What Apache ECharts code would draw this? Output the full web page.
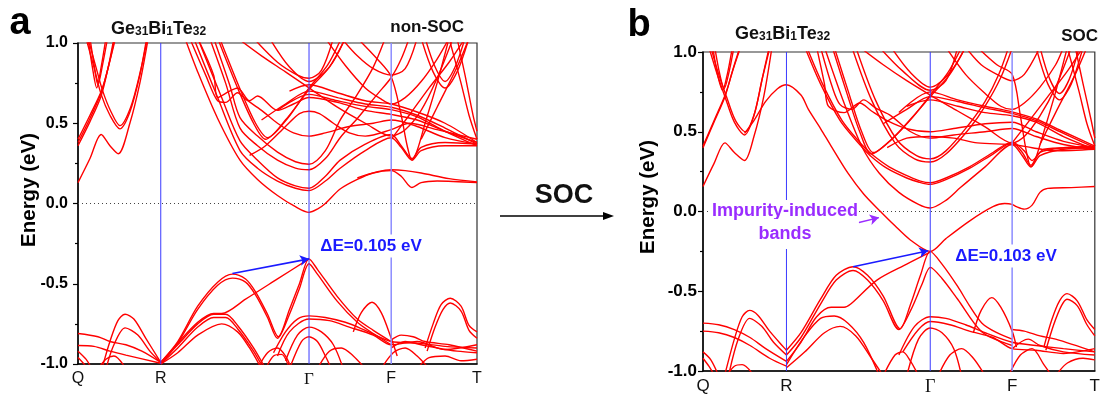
<!DOCTYPE html>
<html><head><meta charset="utf-8">
<script src="https://cdn.jsdelivr.net/npm/echarts@6/dist/echarts.min.js"></script>
<style>html,body{margin:0;padding:0;background:#fff}#c{width:1103px;height:396px}</style>
</head><body><div id="c"></div>
<script>
// ---------- high-symmetry path ----------
const kLabels = ['Q', 'R', 'Γ', 'F', 'T'];
const kPosNonSoc = [0, 0.2074, 0.579, 0.785, 1];
const kPosSoc = [0, 0.213, 0.58, 0.789, 1];
const energyTicks = [-1.0, -0.5, 0.0, 0.5, 1.0];

// ---------- (a) non-SOC bands: [k, E(eV)] ----------
const nonSocQR = [
  [[0,0.13],[0.03,0.28],[0.058,0.43],[0.08,0.36],[0.101,0.31],[0.13,0.50],[0.155,0.75],[0.176,1.03]],
  [[0,0.36],[0.03,0.51],[0.058,0.67],[0.075,0.84],[0.09,1.03]],
  [[0,0.38],[0.03,0.53],[0.058,0.69],[0.078,0.87],[0.092,1.03]],
  [[0,0.40],[0.03,0.55],[0.06,0.71],[0.08,0.89],[0.094,1.03]],
  [[0.02,1.03],[0.04,0.85],[0.058,0.68],[0.08,0.55],[0.105,0.465],[0.13,0.57],[0.155,0.80],[0.172,1.03]],
  [[0.025,1.03],[0.045,0.85],[0.062,0.70],[0.083,0.57],[0.105,0.485],[0.132,0.60],[0.157,0.83],[0.174,1.03]],
  [[0.025,1.03],[0.036,0.85],[0.047,0.72],[0.058,0.85],[0.07,1.03]],
  [[0.03,1.03],[0.04,0.87],[0.05,0.74],[0.062,0.87],[0.074,1.03]]
];
const nonSocQRValence = [
  [[0.06,-1.03],[0.08,-0.86],[0.10,-0.73],[0.118,-0.69],[0.14,-0.72],[0.17,-0.84],[0.2074,-0.99]],
  [[0.07,-1.03],[0.09,-0.88],[0.118,-0.775],[0.15,-0.82],[0.18,-0.92],[0.2074,-0.99]],
  [[0,-0.81],[0.05,-0.83],[0.08,-0.86],[0.12,-0.88],[0.16,-0.92],[0.2074,-0.99]],
  [[0,-0.885],[0.04,-0.89],[0.08,-0.92],[0.12,-0.945],[0.2074,-0.995]],
  [[0,-0.92],[0.02,-0.97],[0.035,-1.03]],
  [[0,-0.96],[0.015,-1.0],[0.025,-1.03]],
  [[0.05,-1.03],[0.07,-0.97],[0.09,-0.95],[0.12,-1.03]]
];
const nonSocConduction = [
  [[0.268,1.03],[0.30,0.82],[0.35,0.53],[0.406,0.27],[0.45,0.15],[0.50,0.05],[0.545,-0.02],[0.579,-0.055],[0.60,-0.035],[0.62,0.0],[0.657,0.09],[0.70,0.15],[0.74,0.19],[0.785,0.205],[0.81,0.17],[0.837,0.10],[0.86,0.13],[0.90,0.14],[1,0.13]],
  [[0.70,0.16],[0.785,0.21],[0.82,0.205],[0.86,0.19],[0.93,0.155],[1,0.135]],
  [[0.29,1.03],[0.35,0.66],[0.406,0.33],[0.45,0.22],[0.50,0.14],[0.545,0.095],[0.579,0.08],[0.62,0.14],[0.657,0.22],[0.72,0.33],[0.785,0.41],[0.81,0.35],[0.837,0.27],[0.86,0.33],[0.92,0.36],[1,0.36]],
  [[0.30,1.03],[0.36,0.66],[0.406,0.39],[0.45,0.27],[0.50,0.16],[0.545,0.11],[0.579,0.095],[0.62,0.17],[0.657,0.27],[0.72,0.37],[0.785,0.43],[0.81,0.36],[0.837,0.28],[0.86,0.35],[0.92,0.38],[1,0.37]],
  [[0.33,1.03],[0.37,0.75],[0.406,0.47],[0.45,0.36],[0.50,0.27],[0.545,0.22],[0.579,0.21],[0.62,0.28],[0.657,0.41],[0.70,0.53],[0.75,0.68],[0.785,0.785],[0.81,0.90],[0.83,1.03]],
  [[0.34,1.03],[0.38,0.74],[0.406,0.535],[0.45,0.42],[0.50,0.32],[0.545,0.26],[0.579,0.245],[0.62,0.33],[0.657,0.52],[0.70,0.68],[0.74,0.85],[0.77,1.03]],
  [[0.43,0.30],[0.47,0.36],[0.52,0.48],[0.555,0.56],[0.579,0.575],[0.605,0.56],[0.64,0.50],[0.68,0.44],[0.72,0.42],[0.785,0.46],[0.83,0.50],[0.90,0.46],[1,0.40]],
  [[0.35,1.03],[0.40,0.72],[0.44,0.50],[0.47,0.40],[0.52,0.52],[0.579,0.71],[0.63,0.85],[0.67,1.03]],
  [[0.355,1.03],[0.405,0.72],[0.445,0.50],[0.475,0.41],[0.525,0.53],[0.579,0.72],[0.625,0.86],[0.66,1.03]],
  [[0.40,1.03],[0.46,0.92],[0.52,0.82],[0.579,0.72],[0.65,0.60],[0.72,0.50],[0.785,0.42],[0.82,0.46],[0.86,0.58],[0.90,0.78],[0.94,1.03]],
  [[0.46,0.52],[0.52,0.62],[0.579,0.70],[0.65,0.66],[0.72,0.62],[0.785,0.60],[0.85,0.55],[0.92,0.47],[1,0.37]],
  [[0.50,0.58],[0.579,0.68],[0.65,0.64],[0.72,0.605],[0.785,0.585],[0.85,0.54],[0.92,0.45],[1,0.36]],
  [[0.53,0.70],[0.579,0.74],[0.65,0.69],[0.72,0.64],[0.785,0.62],[0.85,0.57],[0.92,0.50],[1,0.38]],
  [[0.70,1.03],[0.75,0.90],[0.785,0.79],[0.81,0.55],[0.825,0.36],[0.837,0.27],[0.85,0.33],[0.87,0.50],[0.90,0.75],[0.93,1.03]],
  [[0.785,0.40],[0.83,0.55],[0.88,0.72],[0.93,0.88],[0.97,1.03]],
  [[0.86,0.40],[0.90,0.60],[0.95,0.85],[0.98,1.03]],
  [[0.86,1.03],[0.89,0.82],[0.92,0.72],[0.95,0.82],[0.98,1.03]],
  [[0.87,1.03],[0.895,0.85],[0.92,0.76],[0.945,0.85],[0.97,1.03]],
  [[0.48,1.03],[0.53,0.85],[0.579,0.76],[0.63,0.85],[0.67,1.03]],
  [[0.44,1.03],[0.50,0.88],[0.55,0.80],[0.579,0.78],[0.61,0.83],[0.64,1.03]],
  [[0.30,1.03],[0.34,0.80],[0.35,0.66],[0.38,0.70],[0.40,0.72],[0.43,0.64],[0.45,0.67],[0.50,0.58],[0.54,0.62],[0.579,0.66],[0.65,0.63],[0.72,0.58],[0.785,0.555],[0.85,0.52],[0.92,0.45],[1,0.38]],
  [[0.28,1.03],[0.32,0.80],[0.35,0.64],[0.37,0.63],[0.40,0.69],[0.42,0.65],[0.46,0.58],[0.50,0.50],[0.54,0.44],[0.579,0.42],[0.62,0.44],[0.68,0.48],[0.74,0.50],[0.785,0.52],[0.85,0.48],[0.92,0.41],[1,0.37]],
  [[0.62,1.03],[0.67,0.86],[0.72,0.72],[0.76,0.65],[0.785,0.62],[0.82,0.66],[0.86,0.76],[0.90,0.90],[0.93,1.03]],
  [[0.66,1.03],[0.70,0.92],[0.74,0.84],[0.785,0.80],[0.82,0.84],[0.85,1.03]],
  [[0.93,1.03],[0.96,0.75],[0.98,0.55],[1,0.40]],
  [[0.95,1.03],[0.97,0.80],[0.99,0.55],[1,0.45]]
];
const nonSocValence = [
  [[0.2074,-0.99],[0.25,-0.86],[0.30,-0.64],[0.35,-0.49],[0.387,-0.44],[0.42,-0.47],[0.445,-0.55],[0.475,-0.69],[0.502,-0.83],[0.53,-0.66],[0.555,-0.50],[0.579,-0.345],[0.60,-0.41],[0.65,-0.58],[0.70,-0.72],[0.74,-0.79],[0.785,-0.86]],
  [[0.2074,-1.0],[0.25,-0.87],[0.30,-0.66],[0.35,-0.51],[0.387,-0.465],[0.42,-0.49],[0.445,-0.57],[0.475,-0.71],[0.50,-0.84],[0.53,-0.69],[0.555,-0.53],[0.579,-0.375],[0.60,-0.44],[0.65,-0.61],[0.70,-0.74],[0.74,-0.81],[0.785,-0.88]],
  [[0.2074,-0.99],[0.25,-0.87],[0.30,-0.74],[0.34,-0.685],[0.36,-0.685],[0.42,-0.596],[0.50,-0.47],[0.579,-0.345]],
  [[0.2074,-0.99],[0.25,-0.88],[0.30,-0.75],[0.34,-0.69],[0.37,-0.69],[0.40,-0.76],[0.44,-0.90],[0.47,-1.03]],
  [[0.2074,-1.0],[0.25,-0.90],[0.30,-0.77],[0.34,-0.71],[0.37,-0.71],[0.40,-0.78],[0.44,-0.92],[0.465,-1.03]],
  [[0.2074,-1.0],[0.25,-0.93],[0.30,-0.82],[0.36,-0.75],[0.40,-0.80],[0.43,-0.90],[0.46,-1.03]],
  [[0.49,-0.93],[0.52,-0.80],[0.55,-0.72],[0.579,-0.70],[0.62,-0.71],[0.67,-0.74],[0.72,-0.79],[0.785,-0.86],[0.85,-0.87],[0.92,-0.89],[1,-0.90]],
  [[0.50,-0.95],[0.53,-0.80],[0.579,-0.72],[0.63,-0.73],[0.68,-0.77],[0.74,-0.82],[0.785,-0.88],[0.85,-0.86],[0.92,-0.91],[1,-0.88]],
  [[0.52,-0.98],[0.55,-0.82],[0.579,-0.77],[0.61,-0.80],[0.64,-0.88],[0.665,-1.03]],
  [[0.53,-1.03],[0.56,-0.86],[0.579,-0.83],[0.60,-0.86],[0.62,-0.95],[0.635,-1.03]],
  [[0.69,-0.80],[0.71,-0.68],[0.737,-0.615],[0.76,-0.68],[0.785,-0.84],[0.80,-0.95]],
  [[0.87,-0.90],[0.89,-0.75],[0.91,-0.63],[0.933,-0.59],[0.96,-0.64],[0.98,-0.76],[1,-0.80]],
  [[0.875,-0.92],[0.895,-0.77],[0.915,-0.66],[0.933,-0.62],[0.96,-0.67],[0.98,-0.79],[1,-0.84]],
  [[0.785,-0.85],[0.81,-0.82],[0.84,-0.83],[0.87,-0.86],[0.93,-0.88],[1,-0.92]],
  [[0.785,-0.90],[0.82,-0.86],[0.86,-0.88],[0.90,-0.90],[0.95,-0.92],[1,-0.93]],
  [[0.45,-1.03],[0.475,-0.93],[0.50,-0.90],[0.52,-0.95],[0.535,-1.03]],
  [[0.47,-1.03],[0.49,-0.95],[0.51,-0.94],[0.53,-1.03]],
  [[0.60,-1.03],[0.63,-0.92],[0.66,-0.90],[0.69,-0.95],[0.72,-1.03]],
  [[0.76,-1.03],[0.79,-0.93],[0.82,-0.90],[0.85,-0.95],[0.88,-1.03]],
  [[0.85,-1.03],[0.88,-0.96],[0.92,-0.95],[0.96,-0.98],[1,-0.97]]
];

// ---------- (b) SOC bands ----------
const socQR = [
  [[0,0.157],[0.028,0.30],[0.056,0.43],[0.08,0.37],[0.106,0.32],[0.13,0.47],[0.155,0.72],[0.176,1.03]],
  [[0,0.40],[0.028,0.56],[0.056,0.72],[0.075,0.88],[0.094,1.03]],
  [[0,0.41],[0.03,0.58],[0.058,0.74],[0.078,0.90],[0.096,1.03]],
  [[0.015,1.03],[0.035,0.87],[0.056,0.72],[0.08,0.56],[0.106,0.48],[0.13,0.60],[0.15,0.82],[0.169,1.03]],
  [[0.02,1.03],[0.04,0.86],[0.06,0.72],[0.083,0.57],[0.108,0.50],[0.132,0.62],[0.152,0.84],[0.171,1.03]],
  [[0.025,1.03],[0.037,0.86],[0.05,0.76],[0.062,0.86],[0.075,1.03]],
  [[0.03,1.03],[0.042,0.87],[0.054,0.77],[0.066,0.87],[0.079,1.03]]
];
const socQRValence = [
  [[0.055,-1.03],[0.08,-0.80],[0.10,-0.66],[0.119,-0.62],[0.14,-0.65],[0.17,-0.75],[0.213,-0.87]],
  [[0.065,-1.03],[0.09,-0.80],[0.119,-0.67],[0.15,-0.72],[0.18,-0.82],[0.213,-0.90]],
  [[0,-0.70],[0.04,-0.71],[0.08,-0.74],[0.12,-0.79],[0.16,-0.86],[0.213,-0.94]],
  [[0,-0.75],[0.04,-0.76],[0.08,-0.79],[0.12,-0.84],[0.17,-0.92],[0.213,-0.97]],
  [[0,-0.88],[0.02,-0.93],[0.04,-1.03]],
  [[0,-0.92],[0.015,-0.97],[0.03,-1.03]],
  [[0.06,-1.03],[0.08,-0.97],[0.10,-0.96],[0.13,-1.03]]
];
const socImpurity = [
  [[0.106,0.49],[0.13,0.57],[0.16,0.69],[0.19,0.77],[0.213,0.795],[0.25,0.73],[0.269,0.64],[0.30,0.52],[0.327,0.41],[0.37,0.24],[0.41,0.11],[0.453,0.0],[0.49,-0.09],[0.53,-0.18],[0.58,-0.25],[0.62,-0.17],[0.68,-0.06],[0.74,0.03],[0.77,0.05],[0.789,0.045],[0.80,0.03],[0.82,0.015],[0.84,0.04],[0.86,0.12],[0.88,0.145],[0.94,0.15],[1,0.157]]
];
const socConduction = [
  [[0.31,1.03],[0.36,0.68],[0.407,0.40],[0.45,0.24],[0.50,0.12],[0.55,0.045],[0.58,0.022],[0.62,0.07],[0.657,0.15],[0.72,0.28],[0.789,0.42],[0.815,0.35],[0.837,0.28],[0.86,0.35],[0.92,0.39],[1,0.40]],
  [[0.26,1.03],[0.30,0.80],[0.35,0.57],[0.40,0.42],[0.427,0.35],[0.47,0.27],[0.52,0.21],[0.55,0.185],[0.58,0.17],[0.62,0.20],[0.68,0.27],[0.74,0.36],[0.789,0.43],[0.815,0.37],[0.837,0.29],[0.86,0.37],[0.92,0.40],[1,0.41]],
  [[0.265,1.03],[0.305,0.80],[0.355,0.57],[0.405,0.42],[0.43,0.36],[0.475,0.28],[0.525,0.22],[0.555,0.19],[0.58,0.18],[0.62,0.21],[0.68,0.28],[0.74,0.37],[0.789,0.435],[0.82,0.38],[0.84,0.32],[0.87,0.39],[0.93,0.40],[1,0.40]],
  [[0.38,1.03],[0.43,0.70],[0.49,0.43],[0.54,0.33],[0.58,0.31],[0.62,0.36],[0.683,0.53],[0.72,0.66],[0.76,0.84],[0.79,1.03]],
  [[0.39,1.03],[0.44,0.70],[0.495,0.45],[0.545,0.35],[0.58,0.33],[0.62,0.38],[0.68,0.55],[0.72,0.69],[0.755,0.86],[0.78,1.03]],
  [[0.47,0.40],[0.52,0.46],[0.58,0.47],[0.64,0.46],[0.70,0.43],[0.789,0.42],[0.84,0.40],[0.90,0.38],[1,0.39]],
  [[0.33,1.03],[0.37,0.72],[0.40,0.50],[0.43,0.36],[0.48,0.45],[0.53,0.58],[0.58,0.72],[0.63,0.86],[0.67,1.03]],
  [[0.335,1.03],[0.375,0.72],[0.405,0.50],[0.435,0.37],[0.485,0.46],[0.535,0.59],[0.58,0.73],[0.625,0.87],[0.66,1.03]],
  [[0.40,1.03],[0.46,0.92],[0.52,0.82],[0.58,0.73],[0.65,0.63],[0.72,0.53],[0.789,0.43],[0.82,0.47],[0.86,0.60],[0.90,0.78],[0.94,1.03]],
  [[0.46,0.55],[0.52,0.64],[0.58,0.72],[0.65,0.69],[0.72,0.65],[0.789,0.615],[0.85,0.57],[0.92,0.49],[1,0.40]],
  [[0.50,0.62],[0.58,0.75],[0.65,0.70],[0.72,0.66],[0.789,0.625],[0.85,0.58],[0.92,0.50],[1,0.41]],
  [[0.52,0.66],[0.58,0.70],[0.65,0.66],[0.72,0.62],[0.789,0.60],[0.85,0.56],[0.92,0.47],[1,0.39]],
  [[0.70,1.03],[0.75,0.92],[0.789,0.86],[0.81,0.60],[0.825,0.38],[0.837,0.28],[0.85,0.34],[0.87,0.50],[0.90,0.75],[0.93,1.03]],
  [[0.789,0.43],[0.83,0.56],[0.88,0.72],[0.93,0.88],[0.97,1.03]],
  [[0.86,0.42],[0.90,0.62],[0.95,0.86],[0.98,1.03]],
  [[0.85,1.03],[0.88,0.80],[0.91,0.70],[0.94,0.80],[0.97,1.03]],
  [[0.86,1.03],[0.885,0.83],[0.91,0.74],[0.935,0.83],[0.96,1.03]],
  [[0.48,1.03],[0.53,0.87],[0.58,0.78],[0.63,0.87],[0.67,1.03]],
  [[0.45,1.03],[0.51,0.88],[0.58,0.76],[0.62,0.82],[0.65,1.03]],
  [[0.29,1.03],[0.31,0.80],[0.32,0.66],[0.36,0.62],[0.40,0.68],[0.43,0.63],[0.47,0.57],[0.52,0.52],[0.58,0.50],[0.64,0.52],[0.72,0.55],[0.789,0.56],[0.85,0.50],[0.92,0.44],[1,0.40]],
  [[0.30,1.03],[0.33,0.78],[0.35,0.67],[0.38,0.64],[0.41,0.70],[0.44,0.65],[0.48,0.60],[0.53,0.50],[0.58,0.46],[0.64,0.48],[0.72,0.50],[0.789,0.52],[0.85,0.47],[0.92,0.42],[1,0.39]],
  [[0.62,1.03],[0.67,0.86],[0.72,0.74],[0.76,0.66],[0.789,0.64],[0.82,0.68],[0.86,0.78],[0.90,0.92],[0.92,1.03]],
  [[0.67,1.03],[0.71,0.92],[0.75,0.86],[0.789,0.82],[0.82,0.86],[0.86,1.03]],
  [[0.93,1.03],[0.96,0.75],[0.98,0.55],[1,0.41]],
  [[0.95,1.03],[0.97,0.80],[0.99,0.58],[1,0.46]]
];
const socValence = [
  [[0.213,-0.87],[0.25,-0.76],[0.30,-0.55],[0.34,-0.40],[0.383,-0.346],[0.42,-0.40],[0.46,-0.53],[0.503,-0.735],[0.53,-0.58],[0.555,-0.40],[0.58,-0.25],[0.61,-0.33],[0.65,-0.47],[0.68,-0.59],[0.712,-0.70],[0.75,-0.76],[0.789,-0.80]],
  [[0.213,-0.90],[0.25,-0.79],[0.30,-0.58],[0.34,-0.43],[0.383,-0.37],[0.42,-0.43],[0.46,-0.56],[0.50,-0.74],[0.53,-0.62],[0.56,-0.45],[0.58,-0.35],[0.61,-0.42],[0.65,-0.55],[0.712,-0.755],[0.789,-0.84]],
  [[0.213,-0.94],[0.25,-0.82],[0.29,-0.66],[0.327,-0.60],[0.36,-0.60],[0.377,-0.58],[0.444,-0.43],[0.52,-0.33],[0.58,-0.255]],
  [[0.213,-0.96],[0.26,-0.78],[0.30,-0.67],[0.335,-0.655],[0.37,-0.70],[0.41,-0.82],[0.45,-1.03]],
  [[0.213,-0.98],[0.26,-0.88],[0.31,-0.76],[0.35,-0.72],[0.39,-0.78],[0.43,-0.92],[0.46,-1.03]],
  [[0.50,-0.90],[0.54,-0.72],[0.58,-0.66],[0.62,-0.67],[0.67,-0.71],[0.72,-0.76],[0.789,-0.82],[0.85,-0.84],[0.92,-0.86],[1,-0.88]],
  [[0.51,-0.88],[0.55,-0.74],[0.58,-0.69],[0.63,-0.71],[0.68,-0.75],[0.74,-0.79],[0.789,-0.86],[0.85,-0.87],[0.92,-0.89],[1,-0.86]],
  [[0.52,-1.03],[0.55,-0.80],[0.58,-0.73],[0.61,-0.76],[0.64,-0.86],[0.66,-1.03]],
  [[0.69,-0.76],[0.71,-0.62],[0.737,-0.54],[0.76,-0.60],[0.789,-0.75],[0.80,-0.85]],
  [[0.87,-0.85],[0.89,-0.68],[0.91,-0.56],[0.929,-0.515],[0.955,-0.56],[0.98,-0.68],[1,-0.74]],
  [[0.875,-0.87],[0.895,-0.71],[0.915,-0.59],[0.929,-0.55],[0.955,-0.59],[0.98,-0.71],[1,-0.78]],
  [[0.789,-0.74],[0.82,-0.75],[0.86,-0.78],[0.90,-0.80],[1,-0.88]],
  [[0.789,-0.86],[0.83,-0.80],[0.86,-0.84],[0.92,-0.88],[1,-0.90]],
  [[0.46,-1.03],[0.49,-0.90],[0.51,-0.88],[0.53,-0.94],[0.55,-1.03]],
  [[0.60,-1.03],[0.63,-0.90],[0.66,-0.86],[0.69,-0.92],[0.72,-1.03]],
  [[0.78,-1.03],[0.81,-0.90],[0.84,-0.86],[0.87,-0.96],[0.89,-1.03]],
  [[0.90,-1.03],[0.93,-0.95],[0.97,-0.92],[1,-0.93]]
];

// ---------- annotations (data coordinates) ----------
const gapArrowNonSoc = [[0.387, -0.436], [0.579, -0.345]];
const gapArrowSoc = [[0.383, -0.346], [0.575, -0.246]];
const impurityArrow = [[0.398, -0.069], [0.449, -0.038]];

// ---------- build ----------
const RED = '#ff0000';
function bandSeries(list, idx) {
  return list.map(b => ({
    type: 'line', xAxisIndex: idx, yAxisIndex: idx, data: b,
    symbol: 'none', showSymbol: false, smooth: 0.3, silent: true, z: 2,
    lineStyle: { color: RED, width: 1.4 }
  }));
}
function vLines(pos, idx) {
  return pos.slice(1, 4).map((k, i) => ({
    type: 'line', xAxisIndex: idx, yAxisIndex: idx, data: [[k, -1], [k, 1]],
    symbol: 'none', silent: true, z: 3,
    lineStyle: { color: i === 2 ? '#8c8cff' : '#3a3aff', width: i === 2 ? 1.5 : 1 }
  }));
}
function zeroLine(idx, arrows) {
  return {
    type: 'line', xAxisIndex: idx, yAxisIndex: idx, data: [[0, 0], [1, 0]],
    symbol: 'none', silent: true, z: 1,
    lineStyle: { color: '#444', width: 1, type: [1, 3] },
    markLine: {
      silent: true, symbol: ['none', 'arrow'], symbolSize: [8, 9], animation: false,
      label: { show: false },
      data: arrows.map(a => [
        { coord: a.p[0], lineStyle: { color: a.c, width: a.w, type: 'solid' } },
        { coord: a.p[1] }
      ])
    }
  };
}
function xAxis(idx, pos, fs) {
  return {
    type: 'value', gridIndex: idx, min: 0, max: 1,
    axisLine: { show: true, onZero: false, lineStyle: { color: '#000', width: 1.5 } },
    axisTick: { show: false }, splitLine: { show: false },
    axisLabel: {
      customValues: pos, margin: 7, color: '#111', fontSize: fs, fontFamily: 'Liberation Sans',
      formatter: v => {
        let best = 0;
        pos.forEach((p, i) => { if (Math.abs(p - v) < Math.abs(pos[best] - v)) best = i; });
        return kLabels[best] === 'Γ' ? '{g|Γ}' : kLabels[best];
      },
      rich: { g: { fontFamily: 'Liberation Serif', fontSize: fs + 1, color: '#111' } }
    }
  };
}
function yAxis(idx, fs, margin) {
  return {
    type: 'value', gridIndex: idx, min: -1, max: 1, interval: 0.5,
    axisLine: { show: true, onZero: false, lineStyle: { color: '#000', width: 1.5 } },
    axisTick: { show: true, length: 5, lineStyle: { color: '#000', width: 1.2 } },
    minorTick: { show: true, splitNumber: 2, length: 3, lineStyle: { color: '#000', width: 1.2 } },
    splitLine: { show: false },
    axisLabel: { margin: margin, fontSize: fs, fontWeight: 'bold', color: '#000', fontFamily: 'Liberation Sans',
      formatter: v => v.toFixed(1) }
  };
}

const series = [].concat(
  zeroLine(0, [{ p: gapArrowNonSoc, c: '#1a1aff', w: 1.6 }]),
  zeroLine(1, [{ p: gapArrowSoc, c: '#1a1aff', w: 1.6 }, { p: impurityArrow, c: '#9a2cff', w: 1.4 }]),
  bandSeries(nonSocQR, 0), bandSeries(nonSocQRValence, 0),
  bandSeries(nonSocConduction, 0), bandSeries(nonSocValence, 0),
  bandSeries(socQR, 1), bandSeries(socQRValence, 1), bandSeries(socImpurity, 1),
  bandSeries(socConduction, 1), bandSeries(socValence, 1),
  vLines(kPosNonSoc, 0), vLines(kPosSoc, 1)
);

const subRich = {
  m: { fontSize: 18, fontWeight: 'bold', fontFamily: 'Liberation Sans', fill: '#111', lineHeight: 22, verticalAlign: 'bottom' },
  s: { fontSize: 12, fontWeight: 'bold', fontFamily: 'Liberation Sans', fill: '#111', lineHeight: 15, verticalAlign: 'bottom' }
};
function txt(x, y, text, font, color, align, extra) {
  return Object.assign({ type: 'text', x: x, y: y, z: 100, silent: true,
    style: Object.assign({ text: text, font: font, fill: color, align: align || 'center', verticalAlign: 'middle' }, extra || {}) });
}
const formula = '{m|Ge}{s|31}{m|Bi}{s|1}{m|Te}{s|32}';

const graphic = [
  txt(20, 24, 'a', 'bold 38px "Liberation Sans"', '#000'),
  txt(639, 26, 'b', 'bold 38px "Liberation Sans"', '#000'),
  Object.assign(txt(29, 190, 'Energy (eV)', 'bold 20.5px "Liberation Sans"', '#000'), { rotation: Math.PI / 2 }),
  Object.assign(txt(648, 197, 'Energy (eV)', 'bold 20.5px "Liberation Sans"', '#000'), { rotation: Math.PI / 2 }),
  { type: 'text', x: 111, y: 16, z: 100, style: { text: formula, rich: subRich, align: 'left', verticalAlign: 'top' } },
  { type: 'text', x: 735, y: 21, z: 100, style: { text: formula, rich: subRich, align: 'left', verticalAlign: 'top' } },
  txt(464, 27, 'non-SOC', 'bold 17px "Liberation Sans"', '#111', 'right'),
  txt(1098, 36, 'SOC', 'bold 17px "Liberation Sans"', '#111', 'right'),
  txt(564, 196, 'SOC', 'bold 27px "Liberation Sans"', '#111'),
  { type: 'line', z: 100, shape: { x1: 500, y1: 216, x2: 606, y2: 216 }, style: { stroke: '#000', lineWidth: 1.5 } },
  { type: 'polygon', z: 100, shape: { points: [[614, 216], [603, 212], [603, 220]] }, style: { fill: '#000' } },
  txt(371, 246, 'ΔE=0.105 eV', 'bold 17px "Liberation Sans"', '#1a1aff', 'center', { backgroundColor: '#fff', padding: [3, 2] }),
  txt(1006, 256, 'ΔE=0.103 eV', 'bold 17px "Liberation Sans"', '#1a1aff', 'center', { backgroundColor: '#fff', padding: [3, 2] }),
  txt(785, 211, 'Impurity-induced', 'bold 18px "Liberation Sans"', '#9a2cff', 'center', { backgroundColor: '#fff', padding: [2, 1] }),
  txt(785, 234, 'bands', 'bold 18px "Liberation Sans"', '#9a2cff', 'center', { backgroundColor: '#fff', padding: [6, 4] })
];

const option = {
  animation: false,
  backgroundColor: '#fff',
  grid: [
    { left: 78, top: 43, width: 399, height: 321, show: true, borderColor: '#333', borderWidth: 1.2, backgroundColor: 'transparent' },
    { left: 703, top: 52, width: 398, height: 321, show: true, borderColor: '#333', borderWidth: 1.2, backgroundColor: 'transparent' }
  ],
  xAxis: [xAxis(0, kPosNonSoc, 16), xAxis(1, kPosSoc, 17)],
  yAxis: [yAxis(0, 16, 10), yAxis(1, 17, 6)],
  series: series,
  graphic: graphic
};
const chart = echarts.init(document.getElementById('c'), null, { renderer: 'canvas' });
chart.setOption(option);
</script></body></html>
